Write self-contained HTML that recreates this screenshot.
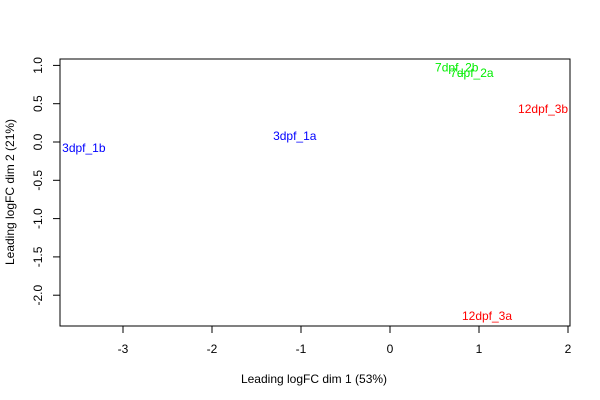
<!DOCTYPE html>
<html><head><meta charset="utf-8"><style>
body{margin:0;background:#fff;}
svg{display:block;font-family:"Liberation Sans",Arial,sans-serif;}
</style></head><body>
<svg id="chart" width="600" height="400">
<rect x="60" y="59" width="510" height="267" fill="none" stroke="#000"/>
<g id="xaxis"></g>
<g id="yaxis"></g>
<g id="points"></g>
<text x="314" y="383" font-size="12" text-anchor="middle">Leading logFC dim 1 (53%)</text>
<text transform="translate(14,192) rotate(-90)" font-size="12" text-anchor="middle">Leading logFC dim 2 (21%)</text>
</svg>
<script>
const samples=["3dpf_1b","3dpf_1a","7dpf_2b","7dpf_2a","12dpf_3b","12dpf_3a"];
const dim1=[-3.44,-1.07,0.75,0.92,1.72,1.09];
const dim2=[-0.08,0.08,0.97,0.90,0.43,-2.27];
const colors=["blue","blue","#00ee00","#00ee00","red","red"];
const xTicks=[-3,-2,-1,0,1,2];
const yTicks=[-2.0,-1.5,-1.0,-0.5,0.0,0.5,1.0];
const yTickLabels=["-2.0","-1.5","-1.0","-0.5","0.0","0.5","1.0"];
const NS="http://www.w3.org/2000/svg";
const sx=v=>390+v*89;
const sy=v=>142-v*76.6;
function mk(t,a,p){const e=document.createElementNS(NS,t);for(const k in a)e.setAttribute(k,a[k]);p.appendChild(e);return e;}
const xa=document.getElementById('xaxis');
mk('line',{x1:sx(-3),x2:sx(2),y1:326,y2:326,stroke:'#000'},xa);
xTicks.forEach(v=>{
 const l=mk('line',{x1:sx(v),x2:sx(v),y1:326,y2:333,stroke:'#000'},xa);
 
 
 const t=mk('text',{x:sx(v),y:353,'font-size':12,'text-anchor':'middle'},xa);
 t.textContent=String(v);
 
 
});
const ya=document.getElementById('yaxis');
mk('line',{x1:60,x2:60,y1:sy(-2),y2:sy(1),stroke:'#000'},ya);
yTicks.forEach((v,i)=>{
 const l=mk('line',{x1:53,x2:60,y1:sy(v),y2:sy(v),stroke:'#000'},ya);
 
 
 const t=mk('text',{transform:`translate(42,${sy(v)}) rotate(-90)`,'font-size':12,'text-anchor':'middle'},ya);
 t.textContent=yTickLabels[i];
 
 
});
const pg=document.getElementById('points');
samples.forEach((s,i)=>{
 const t=mk('text',{x:sx(dim1[i]),y:sy(dim2[i])+4,'font-size':12,'text-anchor':'middle',fill:colors[i]},pg);
 t.textContent=s;
 
 
});
</script>
</body></html>
